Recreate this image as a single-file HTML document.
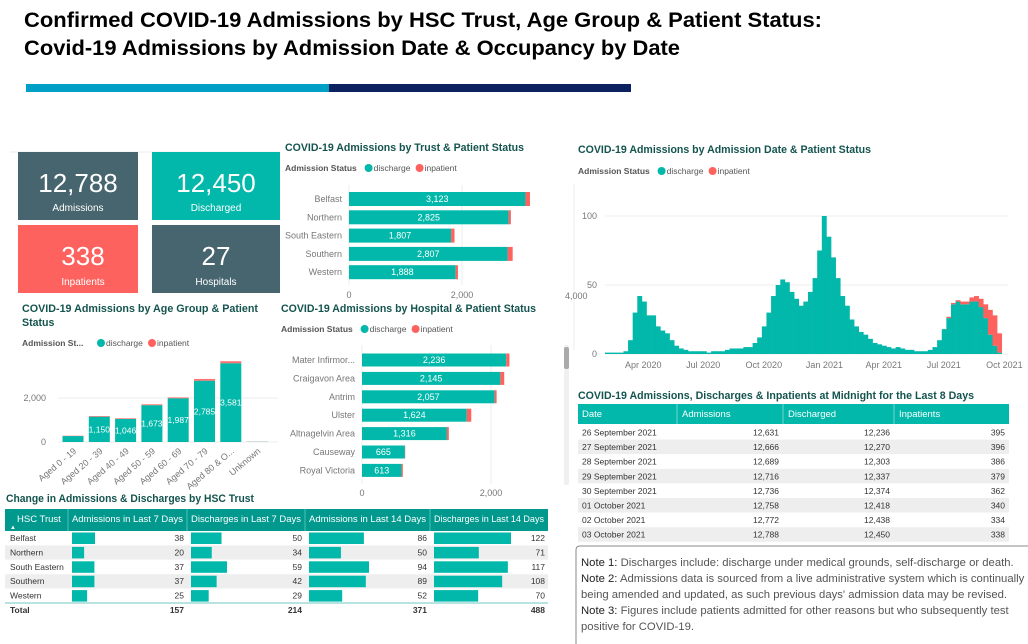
<!DOCTYPE html>
<html><head><meta charset="utf-8">
<style>
body{margin:0;background:#fff;}
svg{display:block;font-family:"Liberation Sans",Arial,sans-serif;}
.t{font-weight:bold;fill:#14544f;font-size:10.6px;}
.lg{font-size:8.5px;fill:#555;}
.ax{font-size:9px;fill:#777;}
.cell{font-size:8.5px;fill:#333;}
.hd{font-size:9.5px;fill:#fff;}
</style></head>
<body>
<svg id="dash" width="1028" height="644" viewBox="0 0 1028 644">
<text x="24" y="27" font-size="21" font-weight="bold" fill="#000" textLength="798" lengthAdjust="spacingAndGlyphs">Confirmed COVID-19 Admissions by HSC Trust, Age Group &amp; Patient Status:</text>
<text x="24" y="55" font-size="21" font-weight="bold" fill="#000" textLength="656" lengthAdjust="spacingAndGlyphs">Covid-19 Admissions by Admission Date &amp; Occupancy by Date</text>
<rect x="26" y="84" width="303" height="8" fill="#00a0c6"/>
<rect x="329" y="84" width="302" height="8" fill="#0c2160"/>
<line x1="10" y1="152" x2="280" y2="152" stroke="#eee"/>

<g><rect x="18" y="152" width="120" height="68" fill="#47656e"/><text x="78" y="192" text-anchor="middle" font-size="26" fill="#fff">12,788</text><text x="78" y="211" text-anchor="middle" font-size="10" fill="#fff">Admissions</text></g>
<g><rect x="152" y="152" width="128" height="68" fill="#01b8aa"/><text x="216" y="192" text-anchor="middle" font-size="26" fill="#fff">12,450</text><text x="216" y="211" text-anchor="middle" font-size="10" fill="#fff">Discharged</text></g>
<g><rect x="18" y="225" width="120" height="68" fill="#fd625e"/><text x="83" y="265" text-anchor="middle" font-size="26" fill="#fff">338</text><text x="83" y="285" text-anchor="middle" font-size="10" fill="#fff">Inpatients</text></g>
<g><rect x="152" y="225" width="128" height="68" fill="#47656e"/><text x="216" y="265" text-anchor="middle" font-size="26" fill="#fff">27</text><text x="216" y="285" text-anchor="middle" font-size="10" fill="#fff">Hospitals</text></g>

<text class="t" x="285" y="151" textLength="239" lengthAdjust="spacingAndGlyphs">COVID-19 Admissions by Trust &amp; Patient Status</text>
<g id="trust"></g>
<text class="t" x="22" y="312" textLength="236" lengthAdjust="spacingAndGlyphs">COVID-19 Admissions by Age Group &amp; Patient</text>
<text class="t" x="22" y="326">Status</text>
<g id="age"></g>
<text class="t" x="281" y="312" textLength="255" lengthAdjust="spacingAndGlyphs">COVID-19 Admissions by Hospital &amp; Patient Status</text>
<g id="hosp"></g>
<rect x="564" y="345" width="5" height="140" rx="2" fill="#f0f0f0"/>
<rect x="564" y="347" width="5" height="22" rx="2" fill="#aaa"/>

<text class="t" x="578" y="153" textLength="293" lengthAdjust="spacingAndGlyphs">COVID-19 Admissions by Admission Date &amp; Patient Status</text>
<line x1="574" y1="184" x2="574" y2="350" stroke="#eee"/>
<text class="ax" x="565" y="299">4,000</text>
<g id="time"></g>

<text class="t" x="578" y="399" textLength="396" lengthAdjust="spacingAndGlyphs">COVID-19 Admissions, Discharges &amp; Inpatients at Midnight for the Last 8 Days</text>
<g id="dtab"></g>

<path d="M576 644 V550 Q576 546 580 546 H1028" fill="none" stroke="#888"/>
<g font-size="11.3" fill="#555">
<text x="581" y="566"><tspan fill="#222">Note 1:</tspan> Discharges include: discharge under medical grounds, self-discharge or death.</text>
<text x="581" y="582"><tspan fill="#222">Note 2:</tspan> Admissions data is sourced from a live administrative system which is continually</text>
<text x="581" y="598">being amended and updated, as such previous days' admission data may be revised.</text>
<text x="581" y="614"><tspan fill="#222">Note 3:</tspan> Figures include patients admitted for other reasons but who subsequently test</text>
<text x="581" y="630">positive for COVID-19.</text>
</g>

<text class="t" x="6" y="502" textLength="248" lengthAdjust="spacingAndGlyphs">Change in Admissions &amp; Discharges by HSC Trust</text>
<g id="ctab"></g>
</svg>
<script>
const NS="http://www.w3.org/2000/svg";
const TEAL="#01b8aa",RED="#fd625e";
function mk(parent,tag,attrs,txt){const e=document.createElementNS(NS,tag);for(const k in attrs)e.setAttribute(k,attrs[k]);if(txt!==undefined)e.textContent=txt;parent.appendChild(e);return e;}
function legend(g,x,y,label){
  const t=mk(g,"text",{x:x,y:y,class:"lg","font-weight":"bold"},label);
  
  
  const w=label.length*4.6+6;
  const c1=mk(g,"circle",{cx:x+w+4,cy:y-3,r:4,fill:TEAL});
  
  
  mk(g,"text",{x:x+w+9,y:y,class:"lg"},"discharge");
  const c2=mk(g,"circle",{cx:x+w+55,cy:y-3,r:4,fill:RED});
  
  
  mk(g,"text",{x:x+w+60,y:y,class:"lg"},"inpatient");
}
const fmt=v=>v.toLocaleString("en-US");

/* Trust chart */
const trustCats=["Belfast","Northern","South Eastern","Southern","Western"];
const trustDischarge=[3123,2825,1807,2807,1888];
const trustInpatient=[80,40,60,90,40];
const trustTicks=[0,2000];
(function(){
  const g=document.getElementById("trust");
  legend(g,285,171,"Admission Status");
  const x0=349,sx=0.0565,y0=199,step=18.3,h=14;
  const X=v=>x0+v*sx;
  trustTicks.forEach(t=>{mk(g,"line",{x1:X(t),x2:X(t),y1:185,y2:285,stroke:"#eee"});mk(g,"text",{x:X(t),y:298,class:"ax","text-anchor":"middle"},fmt(t));});
  trustCats.forEach((c,i)=>{
    const y=y0+i*step;
    mk(g,"text",{x:342,y:y+3,class:"ax","text-anchor":"end",fill:"#555"},c);
    const b=mk(g,"rect",{x:X(0),y:y-h/2,width:X(trustDischarge[i])-X(0),height:h,fill:TEAL});
    
    
    const r=mk(g,"rect",{x:X(trustDischarge[i]),y:y-h/2,width:trustInpatient[i]*sx,height:h,fill:RED});
    
    
    mk(g,"text",{x:(X(0)+X(trustDischarge[i]))/2,y:y+3,"font-size":9,fill:"#fff","text-anchor":"middle"},fmt(trustDischarge[i]));
  });
})();

/* Age chart */
const ageCats=["Aged 0 - 19","Aged 20 - 39","Aged 40 - 49","Aged 50 - 59","Aged 60 - 69","Aged 70 - 79","Aged 80 & O...","Unknown"];
const ageDischarge=[270,1150,1046,1673,1987,2785,3581,10];
const ageInpatient=[15,30,30,40,40,80,90,5];
const ageLabels=[null,"1,150","1,046","1,673","1,987","2,785","3,581",null];
const ageTicks=[0,2000];
(function(){
  const g=document.getElementById("age");
  legend(g,22,346,"Admission St...");
  const y0=442,sy=0.022,cx0=73,step=26.3,w=21;
  const Y=v=>y0-v*sy;
  ageTicks.forEach(t=>{mk(g,"line",{x1:58,x2:278,y1:Y(t),y2:Y(t),stroke:"#eee"});mk(g,"text",{x:46,y:Y(t)+3,class:"ax","text-anchor":"end"},fmt(t));});
  ageCats.forEach((c,i)=>{
    const cx=cx0+i*step;
    const b=mk(g,"rect",{x:cx-w/2,y:Y(ageDischarge[i]),width:w,height:ageDischarge[i]*sy,fill:TEAL});
    
    
    const r=mk(g,"rect",{x:cx-w/2,y:Y(ageDischarge[i]+ageInpatient[i]),width:w,height:ageInpatient[i]*sy,fill:RED,opacity:0.9});
    
    
    if(ageLabels[i])mk(g,"text",{x:cx,y:Y(ageDischarge[i]/2)+3,"font-size":8.5,fill:"#fff","text-anchor":"middle"},ageLabels[i]);
    mk(g,"text",{x:cx+4,y:452,class:"ax","text-anchor":"end",transform:`rotate(-40 ${cx+4} 452)`},c);
  });
})();

/* Hospital chart */
const hospCats=["Mater Infirmor...","Craigavon Area","Antrim","Ulster","Altnagelvin Area","Causeway","Royal Victoria"];
const hospDischarge=[2236,2145,2057,1624,1316,665,613];
const hospInpatient=[50,60,30,70,30,5,20];
const hospTicks=[0,2000];
(function(){
  const g=document.getElementById("hosp");
  legend(g,281,332,"Admission Status");
  const x0=362,sx=0.0645,y0=360,step=18.4,h=13;
  const X=v=>x0+v*sx;
  hospTicks.forEach(t=>{mk(g,"line",{x1:X(t),x2:X(t),y1:345,y2:484,stroke:"#eee"});mk(g,"text",{x:X(t),y:496,class:"ax","text-anchor":"middle"},fmt(t));});
  hospCats.forEach((c,i)=>{
    const y=y0+i*step;
    mk(g,"text",{x:355,y:y+3,class:"ax","text-anchor":"end",fill:"#555"},c);
    const b=mk(g,"rect",{x:X(0),y:y-h/2,width:X(hospDischarge[i])-X(0),height:h,fill:TEAL});
    
    
    const r=mk(g,"rect",{x:X(hospDischarge[i]),y:y-h/2,width:hospInpatient[i]*sx,height:h,fill:RED});
    
    
    mk(g,"text",{x:(X(0)+X(hospDischarge[i]))/2,y:y+3,"font-size":9,fill:"#fff","text-anchor":"middle"},fmt(hospDischarge[i]));
  });
})();

/* Time series (weekly values, weeks starting 3 Feb 2020) */
const weekStart="2020-02-03";
const weeklyDischarge=[1,1,1,1,2,10,30,42,38,28,28,20,17,15,10,6,4,3,2,2,2,2,1,2,2,2,3,4,4,4,5,5,8,12,20,30,42,50,54,52,45,40,35,38,45,55,75,100,85,70,55,42,35,25,20,16,14,11,8,7,6,5,4,5,4,3,3,2,2,2,3,5,10,18,26,36,38,36,36,38,38,34,26,14,6,1];
const weeklyInpatient=[0,0,0,0,0,0,0,0,0,0,0,0,0,0,0,0,0,0,0,0,0,0,0,0,0,0,0,0,0,0,0,0,0,0,0,0,0,0,0,0,0,0,0,0,0,0,0,0,0,0,0,0,0,0,0,0,0,0,0,0,0,0,0,0,0,0,0,0,0,0,0,0,0,0,1,1,1,2,2,3,4,6,10,18,22,14];
const timeTicks=[0,50,100];
const monthLabels=["Apr 2020","Jul 2020","Oct 2020","Jan 2021","Apr 2021","Jul 2021","Oct 2021"];
const monthDates=["2020-04-01","2020-07-01","2020-10-01","2021-01-01","2021-04-01","2021-07-01","2021-10-01"];
(function(){
  const g=document.getElementById("time");
  legend(g,578,174,"Admission Status");
  const t0=Date.parse(weekStart),day=86400000;
  const X=d=>605+((Date.parse(d)-t0)/day)*0.659;
  const Xd=n=>605+n*0.659;
  const Y=v=>354-v*1.38;
  timeTicks.forEach(t=>{mk(g,"line",{x1:605,x2:1008,y1:Y(t),y2:Y(t),stroke:"#eee"});mk(g,"text",{x:597,y:Y(t)+3,class:"ax","text-anchor":"end"},t);});
  monthLabels.forEach((m,i)=>mk(g,"text",{x:X(monthDates[i]),y:368,class:"ax","text-anchor":"middle"},m));
  weeklyDischarge.forEach((v,i)=>{
    const x=Xd(i*7),w=7*0.659;
    const b=mk(g,"rect",{x:x,y:Y(v),width:w+0.3,height:v*1.38,fill:TEAL});
    
    
    const ip=weeklyInpatient[i];
    if(ip>0){
      const r=mk(g,"rect",{x:x,y:Y(v+ip),width:w+0.3,height:ip*1.38,fill:RED});
      
      
    }
  });
})();

/* Daily table */
const dailyDates=["26 September 2021","27 September 2021","28 September 2021","29 September 2021","30 September 2021","01 October 2021","02 October 2021","03 October 2021"];
const dailyAdm=[12631,12666,12689,12716,12736,12758,12772,12788];
const dailyDis=[12236,12270,12303,12337,12374,12418,12438,12450];
const dailyInp=[395,396,386,379,362,340,334,338];
(function(){
  const g=document.getElementById("dtab");
  mk(g,"rect",{x:578,y:404,width:431,height:20,fill:TEAL});
  [["Date",582],["Admissions",682],["Discharged",788],["Inpatients",899]].forEach(h=>mk(g,"text",{x:h[1],y:417,class:"hd"},h[0]));
  [677,783,894].forEach(x=>mk(g,"line",{x1:x,x2:x,y1:404,y2:424,stroke:"#6fd6cd"}));
  dailyDates.forEach((d,i)=>{
    const y=425+i*14.6;
    const row=mk(g,"rect",{x:578,y:y,width:431,height:14.6,fill:i%2?"#eeeeee":"#fff"});
    
    
    mk(g,"text",{x:582,y:y+10.5,class:"cell"},d);
    mk(g,"text",{x:779,y:y+10.5,class:"cell","text-anchor":"end"},fmt(dailyAdm[i]));
    mk(g,"text",{x:890,y:y+10.5,class:"cell","text-anchor":"end"},fmt(dailyDis[i]));
    mk(g,"text",{x:1005,y:y+10.5,class:"cell","text-anchor":"end"},dailyInp[i]);
  });
})();

/* Change table */
const changeTrusts=["Belfast","Northern","South Eastern","Southern","Western"];
const adm7=[38,20,37,37,25];
const dis7=[50,34,59,42,29];
const adm14=[86,50,94,89,52];
const dis14=[122,71,117,108,70];
const changeTotals=[157,214,371,488];
(function(){
  const g=document.getElementById("ctab");
  const cols=[5,68,187,305,430,548];
  mk(g,"rect",{x:5,y:509,width:543,height:22,fill:"#01998d"});
  const heads=["HSC Trust","Admissions in Last 7 Days","Discharges in Last 7 Days","Admissions in Last 14 Days","Discharges in Last 14 Days"];
  heads.forEach((h,i)=>{const t=mk(g,"text",{x:cols[i]+(i?4:12),y:522,class:"hd","font-size":9},h);if(i){t.setAttribute("textLength",cols[i+1]-cols[i]-8);t.setAttribute("lengthAdjust","spacingAndGlyphs");mk(g,"line",{x1:cols[i],x2:cols[i],y1:509,y2:531,stroke:"#4cc3b9"});}});
  mk(g,"text",{x:10,y:529,"font-size":6,fill:"#fff"},"▲");
  const series=[adm7,dis7,adm14,dis14];
  const maxes=series.map(s=>Math.max(...s));
  const maxW=[23,36,60,77];
  changeTrusts.forEach((t,r)=>{
    const y=531+r*14.4;
    mk(g,"rect",{x:5,y:y,width:543,height:14.4,fill:r%2?"#eeeeee":"#fff"});
    mk(g,"text",{x:10,y:y+10,class:"cell"},t);
    series.forEach((s,c)=>{
      const b=mk(g,"rect",{x:cols[c+1]+4,y:y+1.5,width:s[r]/maxes[c]*maxW[c],height:11.5,fill:TEAL});
      
      
      mk(g,"text",{x:cols[c+2]-3,y:y+10,class:"cell","text-anchor":"end"},s[r]);
    });
  });
  mk(g,"line",{x1:5,x2:548,y1:603,y2:603,stroke:"#9fdcd6","stroke-width":1.5});
  mk(g,"text",{x:10,y:613,class:"cell","font-weight":"bold"},"Total");
  changeTotals.forEach((v,c)=>mk(g,"text",{x:cols[c+2]-3,y:613,class:"cell","font-weight":"bold","text-anchor":"end"},v));
})();
</script>
</body></html>
